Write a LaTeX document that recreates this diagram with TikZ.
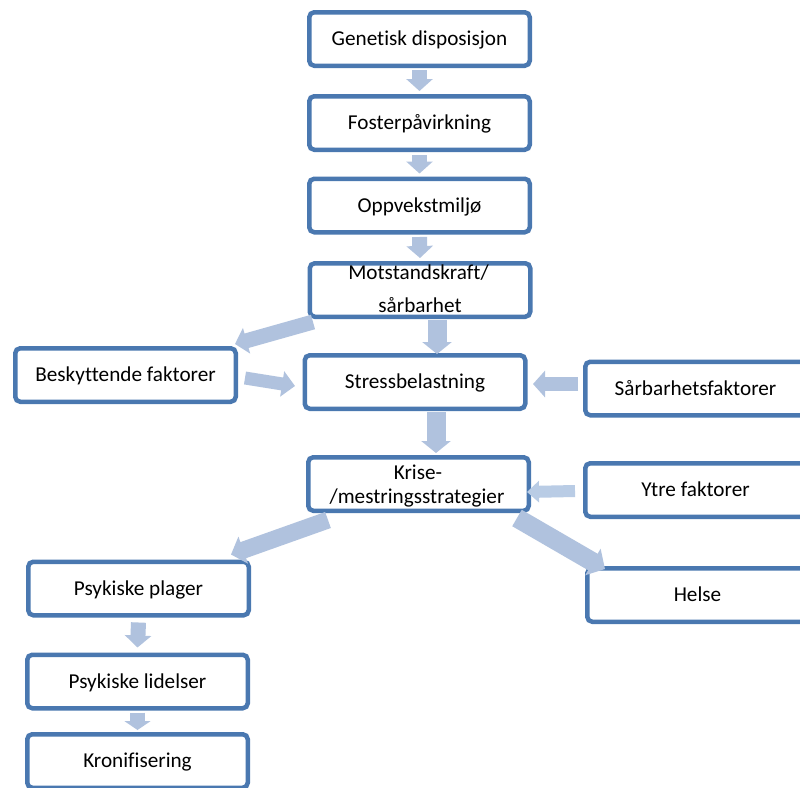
\documentclass[tikz,border=0pt]{standalone}
\usepackage{fontspec}
\setmainfont{Carlito}[Ligatures=NoCommon]
\usetikzlibrary{arrows.meta}
\definecolor{bordc}{HTML}{4A78B0}
\definecolor{arrc}{HTML}{B0C2DE}
\definecolor{arrlight}{HTML}{B9CCE5}
\begin{document}
\begin{tikzpicture}[x=1pt,y=-1pt,
  box/.style={draw=bordc, line width=4.5pt, rounded corners=5pt, fill=white,
    minimum width=220.5pt, minimum height=53.5pt, inner sep=0pt,
    font=\fontsize{21.2}{24}\selectfont, text height=13.6pt, text depth=0pt},
  txt/.style={inner sep=0pt, font=\fontsize{21.2}{24}\selectfont, anchor=base},
  barrow/.style={draw=arrc, line width=15pt, -{Triangle[width=26pt,length=12pt]}},
  bigarrow/.style={draw=arrc, line width=19pt, -{Triangle[width=29pt,length=12pt]}}
]
\useasboundingbox (0,0) rectangle (800,787);
\fill[white] (0,0) rectangle (800,787);
\clip (0,0) rectangle (800,787);

% boxes
\node[box] (gen) at (419.5,39) {Genetisk disposisjon};
\node[box] (fos) at (419.5,123) {Fosterpåvirkning};
\node[box] (opp) at (419.5,205.5) {Oppvekstmiljø};
\node[box] (mot) at (420,290) {};
\node[txt] (motA) at (418.5,279) {Motstandskraft/};
\node[txt] (motB) at (420,312) {sårbarhet};
\node[box] (stress) at (415,382) {Stressbelastning};
\node[box] (besk) at (125.5,375) {Beskyttende faktorer};
\node[box] (sarb) at (695.5,388.5) {Sårbarhetsfaktorer};
\node[box] (krise) at (418.5,484) {};
\node[txt] (kriseA) at (418,479) {Krise-};
\node[txt] (kriseB) at (417,503) {/mestringsstrategier};
\node[box] (ytre) at (695.5,490) {Ytre faktorer};
\node[box] (helse) at (697.5,595) {Helse};
\node[box] (plager) at (138.5,588.5) {Psykiske plager};
\node[box] (lidelser) at (137.5,681.5) {Psykiske lidelser};
\node[box] (kron) at (137.5,761) {Kronifisering};

% arrows
\draw[barrow] ([yshift=-2pt]gen.south) -- ([yshift=3pt]fos.north);
\draw[barrow] ([yshift=-3pt]fos.south) -- ([yshift=3pt]opp.north);
\draw[barrow] ([yshift=-2.5pt]opp.south) -- ([yshift=3pt]mot.north);
\draw[bigarrow] ([xshift=17pt,yshift=-1pt]mot.south) -- ([xshift=22pt,yshift=-1pt]stress.north);
\draw[bigarrow] ([xshift=21pt,yshift=-1pt]stress.south) -- ([xshift=17.5pt,yshift=2pt]krise.north);
\draw[barrow] ([xshift=5.5pt,yshift=-3pt]mot.south west) -- ([xshift=-3pt,yshift=2pt]besk.north east);
\draw[barrow, line width=13pt, -{Triangle[width=25pt,length=13pt]}] ([xshift=7pt,yshift=-3pt]besk.east) -- ([xshift=-7.5pt,yshift=-4pt]stress.west);
\draw[barrow, line width=14pt] ([xshift=-5pt,yshift=4.5pt]sarb.west) -- ([xshift=5.5pt,yshift=-2pt]stress.east);
\draw[draw=arrlight, line width=12pt, -{Triangle[width=21pt,length=12pt]}] ([xshift=-8pt,yshift=-1pt]ytre.west) -- ([xshift=-4pt,yshift=-8pt]krise.east);
\draw[barrow, line width=17pt, -{Triangle[width=28pt,length=13pt]}] ([xshift=22pt,yshift=-7pt]krise.south west) -- ([xshift=-20pt,yshift=5pt]plager.north east);
\draw[barrow, line width=19pt, -{Triangle[width=30pt,length=14pt]}] ([xshift=-14pt,yshift=-5pt]krise.south east) -- ([xshift=20pt,yshift=-3pt]helse.north west);
\draw[barrow] ([yshift=-5pt]plager.south) -- ([yshift=5pt]lidelser.north);
\draw[barrow, -{Triangle[width=26pt,length=9pt]}] ([yshift=-2pt]lidelser.south) -- ([yshift=2pt]kron.north);
\end{tikzpicture}
\end{document}
